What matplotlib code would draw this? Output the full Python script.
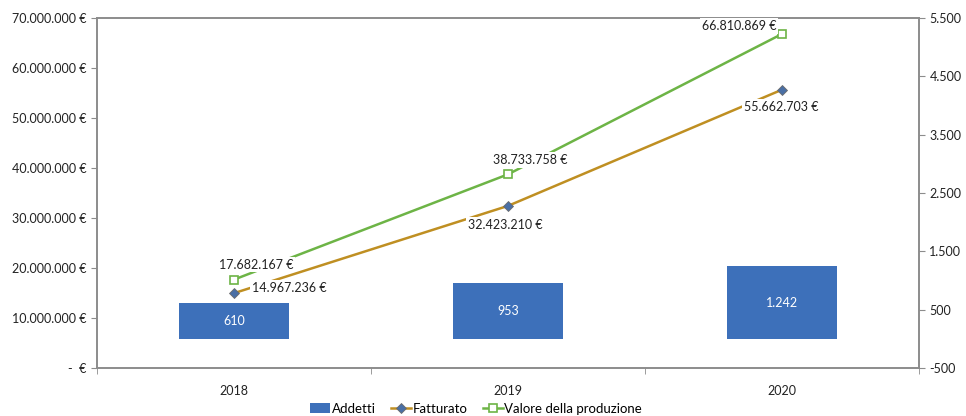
import numpy as np
import matplotlib.pyplot as plt
from matplotlib.ticker import FuncFormatter, FixedLocator

plt.rcParams['font.family'] = ['Lato', 'DejaVu Sans']

# Dati
anni = ['2018', '2019', '2020']
addetti = [610, 953, 1242]
fatturato = [14967236, 32423210, 55662703]
valore_produzione = [17682167, 38733758, 66810869]

def euro(v):
    return f"{v:,.0f}".replace(",", ".") + " €"

def num(v):
    return f"{v:,.0f}".replace(",", ".")

col_bar = '#3D70BA'
col_fatt = '#BF8F22'
col_val = '#6DB446'
col_axis = '#8C8C8C'
col_text = '#222222'

fig = plt.figure(figsize=(9.66, 4.16), dpi=100)
ax = fig.add_axes([97/966, 48/416, 822/966, 350/416])
ax2 = ax.twinx()

x = np.arange(len(anni))

# Addetti (asse destro)
bars = ax2.bar(x, addetti, width=0.4, color=col_bar, zorder=1, label='Addetti')
for xi, v in zip(x, addetti):
    ax2.text(xi, v / 2, num(v), ha='center', va='center', color='white', fontsize=9)
ax2.set_ylim(-500, 5500)
ax2.set_yticks(np.arange(-500, 5501, 1000))
ax2.yaxis.set_major_formatter(FuncFormatter(lambda v, p: num(v)))

# Linee (asse sinistro) sopra le barre
ax.set_zorder(ax2.get_zorder() + 1)
ax.patch.set_visible(False)
l1, = ax.plot(x, fatturato, color=col_fatt, lw=1.8, marker='D', markersize=5,
              markerfacecolor='#4A6FA5', markeredgecolor='#6B6B6B', markeredgewidth=0.6,
              label='Fatturato', zorder=3)
l2, = ax.plot(x, valore_produzione, color=col_val, lw=1.8, marker='s', markersize=6,
              markerfacecolor='white', markeredgecolor=col_val, markeredgewidth=1.2,
              label='Valore della produzione', zorder=3)

ax.set_ylim(0, 70000000)
ax.set_yticks(np.arange(0, 70000001, 10000000))
ax.yaxis.set_major_formatter(FuncFormatter(lambda v, p: '-  €' if v == 0 else euro(v)))
ax.set_xlim(-0.5, 2.5)
ax.set_xticks(x)
ax.set_xticklabels(anni)
ax.xaxis.set_minor_locator(FixedLocator([-0.5, 0.5, 1.5, 2.5]))
ax.tick_params(axis='x', which='major', length=0, pad=12)
ax.tick_params(axis='x', which='minor', length=4, direction='out', color=col_axis)

for a in (ax, ax2):
    for s in a.spines.values():
        s.set_color(col_axis)
        s.set_linewidth(1.2)
    a.tick_params(axis='y', length=4, color=col_axis, labelsize=9, labelcolor=col_text)
ax.tick_params(axis='x', labelsize=9, labelcolor=col_text)

# Etichette dati
box = dict(boxstyle='square,pad=0.15', fc='white', ec='none')
etichette = [
    (0, fatturato[0], (18, 5), 'left'),
    (0, valore_produzione[0], (22, 15), 'center'),
    (1, fatturato[1], (-3, -19), 'center'),
    (1, valore_produzione[1], (22, 14), 'center'),
    (2, fatturato[2], (-1, -17), 'center'),
    (2, valore_produzione[2], (-6, 8), 'right'),
]
for xi, v, off, ha in etichette:
    ax.annotate(euro(v), (xi, v), xytext=off, textcoords='offset pixels',
                ha=ha, va='center', fontsize=9, color=col_text, bbox=box, zorder=4)

fig.legend([bars, l1, l2], ['Addetti', 'Fatturato', 'Valore della produzione'],
           loc='center', bbox_to_anchor=(0.493, 0.018), ncol=3, frameon=False,
           fontsize=9.5, handlelength=1.5, handletextpad=0.1, columnspacing=1.2)

fig.savefig('out.png', dpi=100)
